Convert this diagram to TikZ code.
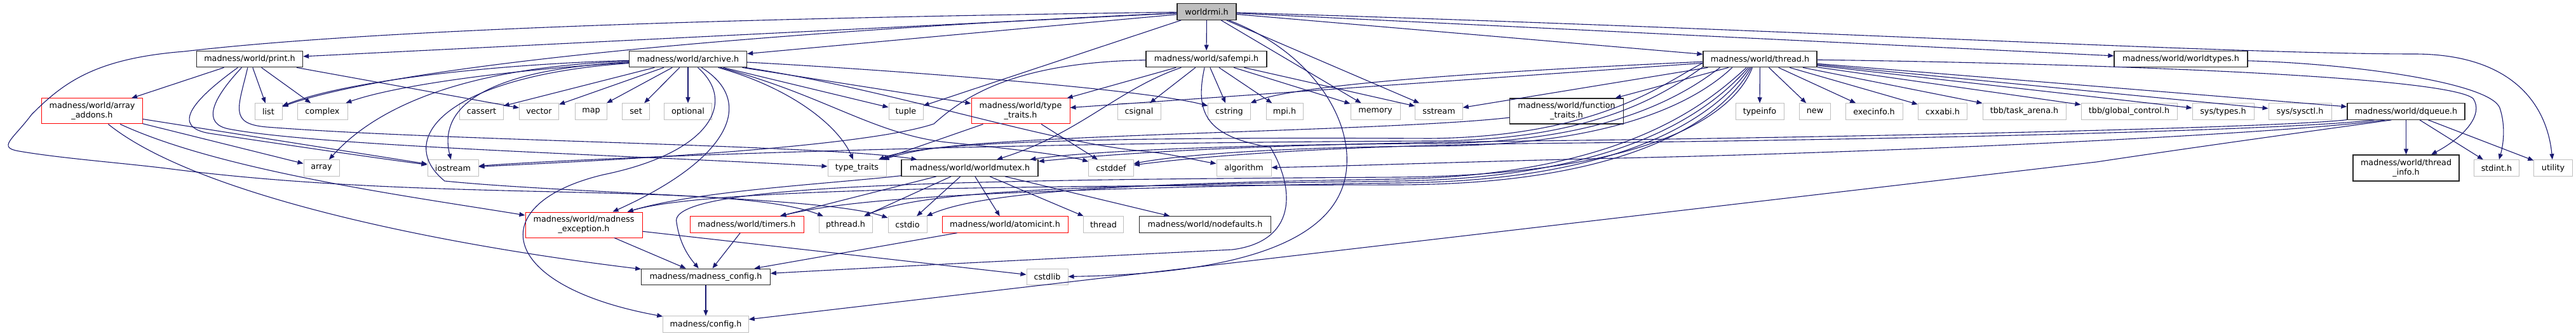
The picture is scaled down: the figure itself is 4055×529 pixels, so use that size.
\documentclass[tikz,border=0pt]{standalone}
\usepackage{fontspec}
\setmainfont{DejaVu Sans}
\usetikzlibrary{arrows.meta}
\definecolor{edgec}{RGB}{25,25,112}
\definecolor{grayb}{RGB}{191,191,191}
\definecolor{rootfill}{RGB}{191,191,191}
\begin{document}
\begin{tikzpicture}[x=1bp,y=-1bp,
  every node/.style={font=\fontsize{12.8}{15}\selectfont, inner xsep=0pt, inner ysep=0pt, align=center},
  nb/.style={rectangle, minimum height=25.5bp},
  sysn/.style={nb, draw=grayb, line width=1bp},
  docn/.style={nb, draw=black!85, line width=1.3bp},
  redn/.style={nb, draw=red, line width=1bp},
  rootn/.style={nb, draw=black!85, fill=rootfill, line width=1.3bp},
  two/.style={minimum height=40bp},
  e/.style={draw=edgec, line width=1.1bp, -{Triangle[length=9bp,width=7bp]}}
]
\path[use as bounding box, fill=white] (0,0) rectangle (4055,529);

% ---------- nodes ----------
\node[rootn, minimum width=93bp] (W) at (1899.5,18.5) {worldrmi.h};
\node[docn, minimum width=167bp] (P) at (393,93) {madness/world/print.h};
\node[docn, minimum width=185bp] (A) at (1083,93) {madness/world/archive.h};
\node[docn, minimum width=190bp] (S) at (1899,93) {madness/world/safempi.h};
\node[docn, minimum width=179bp] (T) at (2770.5,93) {madness/world/thread.h};
\node[docn, minimum width=210bp] (WT) at (3433,93) {madness/world/worldtypes.h};

\node[redn, two, minimum width=158bp] (AA) at (145,175) {madness/world/array\\\_addons.h};
\node[sysn, minimum width=43bp] (list) at (422.5,175.5) {list};
\node[sysn, minimum width=79bp] (complex) at (507.5,175.5) {complex};
\node[sysn, minimum width=68.5bp] (cassert) at (758,175.5) {cassert};
\node[sysn, minimum width=62bp] (vector) at (848.5,175.5) {vector};
\node[sysn, minimum width=50bp] (map) at (930.5,175.5) {map};
\node[sysn, minimum width=42.5bp] (set) at (1001,175.5) {set};
\node[sysn, minimum width=74.5bp] (optional) at (1083,175.5) {optional};
\node[sysn, minimum width=54bp] (tuple) at (1426,175.5) {tuple};
\node[redn, two, minimum width=155bp] (TT) at (1606.5,175) {madness/world/type\\\_traits.h};
\node[sysn, minimum width=68bp] (csignal) at (1793,175.5) {csignal};
\node[sysn, minimum width=66.5bp] (cstring) at (1935,175.5) {cstring};
\node[sysn, minimum width=58bp] (mpi) at (2022,175.5) {mpi.h};
\node[sysn, minimum width=78bp] (memory) at (2165,175.5) {memory};
\node[sysn, minimum width=74.5bp] (sstream) at (2265,175.5) {sstream};
\node[docn, two, minimum width=178.5bp] (FT) at (2466,175) {madness/world/function\\\_traits.h};
\node[sysn, minimum width=76bp] (typeinfo) at (2770,175.5) {typeinfo};
\node[sysn, minimum width=49.5bp] (new) at (2857,175.5) {new};
\node[sysn, minimum width=90bp] (execinfo) at (2950,175.5) {execinfo.h};
\node[sysn, minimum width=77.5bp] (cxxabi) at (3058,175.5) {cxxabi.h};
\node[sysn, minimum width=131bp] (taskarena) at (3186.5,175.5) {tbb/task\_arena.h};
\node[sysn, minimum width=151bp] (globalcontrol) at (3351.5,175.5) {tbb/global\_control.h};
\node[sysn, minimum width=97bp] (systypes) at (3499.5,175.5) {sys/types.h};
\node[sysn, minimum width=99bp] (syssysctl) at (3620.5,175.5) {sys/sysctl.h};
\node[docn, minimum width=185bp] (DQ) at (3787.5,175.5) {madness/world/dqueue.h};

\node[sysn, minimum width=56bp] (array) at (506,264.5) {array};
\node[sysn, minimum width=80bp] (iostream) at (713,264.5) {iostream};
\node[sysn, minimum width=92bp] (typetraits) at (1349,264.5) {type\_traits};
\node[docn, minimum width=215bp] (WM) at (1526.5,264.5) {madness/world/worldmutex.h};
\node[sysn, minimum width=70.5bp] (cstddef) at (1749,264.5) {cstddef};
\node[sysn, minimum width=86bp] (algorithm) at (1958,264.5) {algorithm};
\node[docn, two, minimum height=41bp, minimum width=167bp] (TI) at (3787.5,264.5) {madness/world/thread\\\_info.h};
\node[sysn, minimum width=70.5bp] (stdint) at (3930,264.5) {stdint.h};
\node[sysn, minimum width=60.5bp] (utility) at (4019,264.5) {utility};

\node[redn, two, minimum width=184bp] (ME) at (919,354) {madness/world/madness\\\_exception.h};
\node[redn, minimum width=179bp] (timers) at (1175.5,353.5) {madness/world/timers.h};
\node[sysn, minimum width=84bp] (pthread) at (1331,353.5) {pthread.h};
\node[sysn, minimum width=61bp] (cstdio) at (1428.5,353.5) {cstdio};
\node[redn, minimum width=198bp] (atomicint) at (1582,353.5) {madness/world/atomicint.h};
\node[sysn, minimum width=63.5bp] (thread) at (1737,353.5) {thread};
\node[docn, minimum width=206.5bp] (nodefaults) at (1897,353.5) {madness/world/nodefaults.h};

\node[docn, minimum width=202.5bp] (MC) at (1111,436) {madness/madness\_config.h};
\node[sysn, minimum width=65bp] (cstdlib) at (1648.5,436) {cstdlib};
\node[sysn, minimum width=134.5bp] (config) at (1111,510.5) {madness/config.h};

% ---------- edges from worldrmi.h ----------
\draw[e] (W) -- (S);
\draw[e] (W) -- (P);
\draw[e] (W) -- (A);
\draw[e] (W) .. controls (1300,45) and (650,95) .. (list);
\draw[e] (W) .. controls (1200,28) and (600,45) .. (290,81)
  .. controls (150,92) and (100,130) .. (50,180)
  .. controls (20,220) and (-5,232) .. (30,238)
  .. controls (100,250) and (200,257) .. (277,267)
  .. controls (700,320) and (1150,285) .. (pthread);
\draw[e] (W) -- (tuple);
\draw[e] (W) -- (memory);
\draw[e] (W) -- (sstream);
\draw[e] (W) -- (T);
\draw[e] (W) -- (WT);
\draw[e] (W) .. controls (2800,45) and (3500,85) .. (3800,85)
  .. controls (3960,85) and (4010,170) .. (utility);
\draw[e] (W) .. controls (2060,80) and (2125,180) .. (2120,260)
  .. controls (2115,360) and (2000,430) .. (cstdlib);

% ---------- print.h ----------
\draw[e] (P) -- (AA);
\draw[e] (P) -- (list);
\draw[e] (P) -- (complex);
\draw[e] (P) -- (vector);
\draw[e] (P) .. controls (300,160) and (270,200) .. (330,210)
  .. controls (450,228) and (600,250) .. (iostream);
\draw[e] (P) .. controls (330,160) and (320,195) .. (360,203)
  .. controls (500,230) and (1000,245) .. (typetraits);
\draw[e] (P) .. controls (375,170) and (360,195) .. (420,200)
  .. controls (700,222) and (1300,228) .. (WM);

% ---------- array_addons.h ----------
\draw[e] (AA) -- (array);
\draw[e] (AA) -- (iostream);
\draw[e] (AA) .. controls (350,270) and (650,310) .. (ME);
\draw[e] (AA) .. controls (300,300) and (650,380) .. (MC);

% ---------- archive.h ----------
\draw[e] (A) -- (cassert);
\draw[e] (A) -- (vector);
\draw[e] (A) -- (map);
\draw[e] (A) -- (set);
\draw[e] (A) -- (optional);
\draw[e] (A) .. controls (800,100) and (550,125) .. (list);
\draw[e] (A) .. controls (800,110) and (620,135) .. (complex);
\draw[e] (A) .. controls (750,105) and (600,160) .. (array);
\draw[e] (A) .. controls (760,110) and (690,170) .. (iostream);
\draw[e] (A) .. controls (700,120) and (620,220) .. (700,285)
  .. controls (900,305) and (1300,310) .. (cstdio);
\draw[e] (A) .. controls (1190,160) and (1150,250) .. (ME);
\draw[e] (A) .. controls (1160,160) and (1120,240) .. (950,275)
  .. controls (760,320) and (780,450) .. (config);
\draw[e] (A) -- (tuple);
\draw[e] (A) -- (TT);
\draw[e] (A) .. controls (1400,110) and (1800,140) .. (cstring);
\draw[e] (A) .. controls (1250,140) and (1320,200) .. (typetraits);
\draw[e] (A) .. controls (1300,150) and (1380,215) .. (1500,225)
  .. controls (1600,235) and (1680,245) .. (cstddef);
\draw[e] (A) .. controls (1400,140) and (1650,225) .. (1800,238)
  .. controls (1850,243) and (1880,252) .. (algorithm);

% ---------- safempi.h ----------
\draw[e] (S) .. controls (1760,140) and (1700,210) .. (WM);
\draw[e] (S) -- (TT);
\draw[e] (S) -- (csignal);
\draw[e] (S) -- (cstring);
\draw[e] (S) -- (mpi);
\draw[e] (S) -- (memory);
\draw[e] (S) -- (sstream);
\draw[e] (S) .. controls (1600,98) and (1520,150) .. (1470,195)
  .. controls (1350,235) and (900,255) .. (iostream);
\draw[e] (S) .. controls (1880,180) and (1900,215) .. (2000,232)
  .. controls (2040,300) and (2040,380) .. (1940,393)
  .. controls (1700,405) and (1400,420) .. (MC);

% ---------- thread.h ----------
\draw[e] (T) -- (typeinfo);
\draw[e] (T) -- (new);
\draw[e] (T) -- (execinfo);
\draw[e] (T) -- (cxxabi);
\draw[e] (T) -- (taskarena);
\draw[e] (T) -- (globalcontrol);
\draw[e] (T) -- (systypes);
\draw[e] (T) -- (syssysctl);
\draw[e] (T) -- (DQ);
\draw[e] (T) -- (sstream);
\draw[e] (T) -- (FT);
\draw[e] (T) .. controls (2400,110) and (2050,130) .. (cstring);
\draw[e] (T) -- (TT);
\draw[e] (T.184) .. controls (2620,130) and (2520,215) .. (2250,218)
  .. controls (1700,215) and (1450,225) .. (typetraits);
\draw[e] (T.188) .. controls (2630,140) and (2520,222) .. (2250,222)
  .. controls (1500,225) and (900,250) .. (iostream);
\draw[e] (T.192) .. controls (2650,150) and (2530,226) .. (2250,226)
  .. controls (1900,228) and (1700,240) .. (WM);
\draw[e] (T.197) .. controls (2670,160) and (2540,230) .. (2250,230)
  .. controls (2000,232) and (1850,245) .. (cstddef);
\draw[e] (T.212) .. controls (2690,160) and (2560,275) .. (2200,282)
  .. controls (1800,288) and (1550,300) .. (cstdio);
\draw[e] (T.216) .. controls (2700,165) and (2570,280) .. (2200,285)
  .. controls (1700,292) and (1450,300) .. (pthread);
\draw[e] (T.220) .. controls (2710,170) and (2580,285) .. (2200,288)
  .. controls (1600,298) and (1350,310) .. (timers);
\draw[e] (T.224) .. controls (2720,175) and (2590,290) .. (2200,291)
  .. controls (1500,292) and (1100,300) .. (ME);
\draw[e] (T.228) .. controls (2730,180) and (2600,275) .. (2200,279)
  .. controls (1500,283) and (1050,290) .. (1065,350)
  .. controls (1070,385) and (1085,405) .. (MC);
\draw[e] (T) .. controls (3300,100) and (3850,120) .. (3893,155)
  .. controls (3910,180) and (3880,215) .. (TI);

% ---------- dqueue.h ----------
\draw[e] (DQ) -- (TI);
\draw[e] (DQ) -- (stdint);
\draw[e] (DQ) -- (utility);
\draw[e] (DQ.188) .. controls (3600,200) and (3000,215) .. (2400,222)
  .. controls (2000,227) and (1800,238) .. (WM);
\draw[e] (DQ.195) .. controls (3600,205) and (3000,220) .. (2400,226)
  .. controls (2100,230) and (1900,245) .. (cstddef);
\draw[e] (DQ.202) .. controls (3600,210) and (3000,240) .. (2500,250)
  .. controls (2200,258) and (2100,262) .. (algorithm);
\draw[e] (DQ.210) .. controls (3650,205) and (3500,225) .. (3300,255) -- (config);

% ---------- worldtypes.h ----------
\draw[e] (WT) .. controls (3700,100) and (3920,130) .. (3935,170)
  .. controls (3945,200) and (3940,230) .. (stdint);

% ---------- function_traits.h / type_traits.h ----------
\draw[e] (FT) .. controls (2200,205) and (1700,210) .. (1500,230)
  .. controls (1440,236) and (1410,245) .. (typetraits);
\draw[e] (TT) -- (typetraits);
\draw[e] (TT) -- (cstddef);

% ---------- worldmutex.h ----------
\draw[e] (WM) .. controls (1300,290) and (1100,300) .. (ME);
\draw[e] (WM) -- (timers);
\draw[e] (WM) -- (pthread);
\draw[e] (WM) -- (cstdio);
\draw[e] (WM) -- (atomicint);
\draw[e] (WM) -- (thread);
\draw[e] (WM) -- (nodefaults);

% ---------- lower ----------
\draw[e] (ME) -- (MC);
\draw[e] (ME) -- (cstdlib);
\draw[e] (timers) -- (MC);
\draw[e] (atomicint) -- (MC);
\draw[e] (MC) -- (config);
\end{tikzpicture}
\end{document}
